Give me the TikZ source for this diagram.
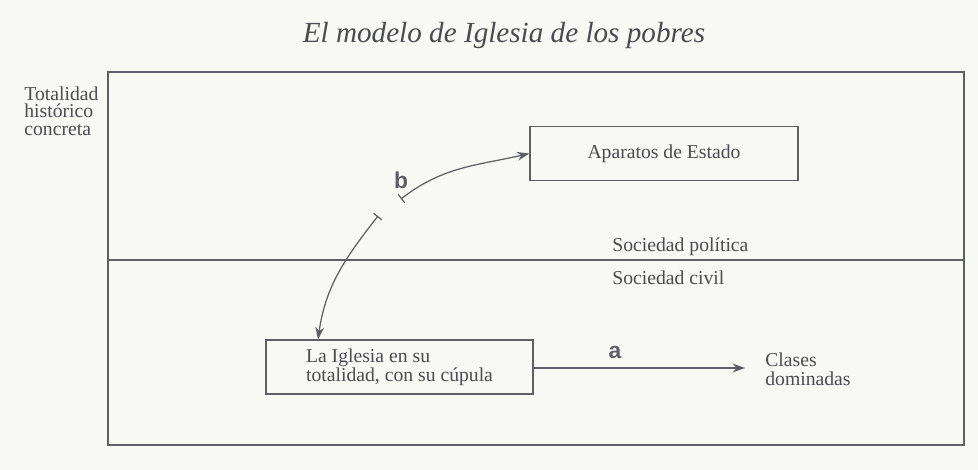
\documentclass[tikz,border=0pt]{standalone}
\usepackage{fontspec}
\setmainfont{Liberation Serif}
\newfontfamily\labelfont{Liberation Sans}
\usepackage{xcolor}
\usetikzlibrary{arrows.meta}

\definecolor{ink}{HTML}{5E5E66}
\definecolor{paper}{HTML}{F8F8F5}

\tikzset{
    boxnode/.style={draw=ink, line width=0.7pt, minimum height=1.08cm, align=left, text=ink!80!black, font=\fontsize{11.2}{11}\selectfont},
    plaintext/.style={text=ink!80!black, align=left, font=\fontsize{11.2}{11}\selectfont},
    letter/.style={text=ink, font=\labelfont\bfseries\fontsize{13}{13}\selectfont},
    link/.style={draw=ink, line width=0.7pt}
}

\begin{document}
\begin{tikzpicture}[x=0.02cm, y=0.02cm]
    \fill[paper] (0,0) rectangle (978,470);
    \useasboundingbox (0,0) rectangle (978,470);

    % title and frame
    \node[text=ink!80!black, font=\itshape\fontsize{16.6}{20}\selectfont] (title) at (504,435) {El modelo de Iglesia de los pobres};
    \draw[ink, line width=0.8pt] (108,25) rectangle (964,398);
    \draw[ink, line width=0.8pt] (108,210) -- (964,210);

    \node[plaintext, anchor=north west, inner sep=0pt, font=\fontsize{11.2}{10.2}\selectfont] (totalidad) at (24,384) {Totalidad\\hist\'orico\\concreta};
    \node[plaintext, anchor=west, inner sep=0pt] (politica) at (612,223) {Sociedad pol\'itica};
    \node[plaintext, anchor=west, inner sep=0pt] (civil) at (612,192) {Sociedad civil};

    % boxes
    \node[boxnode, minimum width=5.36cm] (aparatos) at (664,316.5) {Aparatos de Estado};
    \node[boxnode, minimum width=5.34cm] (iglesia) at (399.5,103) {La Iglesia en su\\totalidad, con su c\'upula};
    \node[plaintext, anchor=west, inner xsep=0.4cm, inner ysep=0pt, font=\fontsize{11.2}{10.8}\selectfont] (clases) at (745,100.5) {Clases\\dominadas};

    % connectors
    \coordinate (bup) at (401,271);
    \coordinate (blow) at (378,254);
    \draw[link, -{Stealth[length=7pt, width=5pt]}] (iglesia.east |- 0,102) -- (clases.west |- 0,102);
    \draw[link, {Bar[width=6pt]}-{Stealth[length=7pt, width=5pt]}] (bup) to[out=38, in=193] (aparatos.west);
    \draw[link, {Bar[width=6pt]}-{Stealth[length=7pt, width=5pt]}] (blow) to[out=232, in=82] (iglesia.north -| 318,0);

    \node[letter] (a) at (615,118) {a};
    \node[letter] (b) at (401,290) {b};
\end{tikzpicture}
\end{document}
